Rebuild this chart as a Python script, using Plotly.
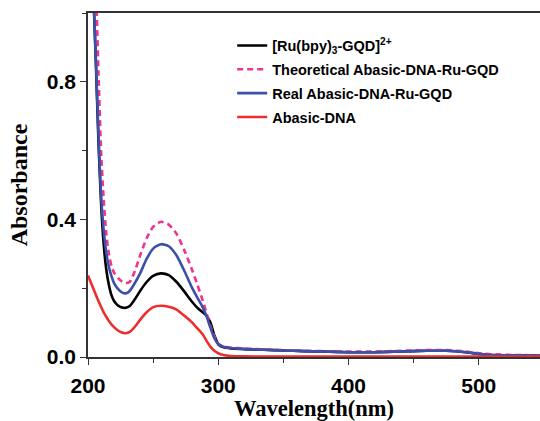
import plotly.graph_objects as go

wavelength = [200, 202, 204, 206, 208, 210, 212, 214, 216, 218, 220, 223, 226, 229, 232, 236, 240, 245, 250, 256,
              262, 268, 274, 280, 284, 288, 291, 294, 297, 300, 304, 310, 320, 335, 350, 365, 380, 400, 420, 440,
              460, 475, 490, 500, 510, 525, 547]

ru_gqd = [1.70, 1.35, 1.07, 0.86, 0.63, 0.45, 0.33, 0.255, 0.21, 0.18, 0.163, 0.150, 0.144, 0.143, 0.148, 0.168, 0.192, 0.218, 0.236, 0.243,
          0.238, 0.218, 0.190, 0.160, 0.143, 0.130, 0.120, 0.100, 0.063, 0.037, 0.028, 0.025, 0.023, 0.021, 0.019, 0.017, 0.016, 0.014, 0.014, 0.016,
          0.018, 0.018, 0.014, 0.009, 0.006, 0.005, 0.004]

theoretical = [2.20, 1.75, 1.40, 1.10, 0.83, 0.60, 0.46, 0.36, 0.30, 0.265, 0.245, 0.230, 0.220, 0.215, 0.218, 0.250, 0.295, 0.345, 0.378, 0.393,
               0.385, 0.358, 0.310, 0.252, 0.210, 0.165, 0.127, 0.090, 0.060, 0.038, 0.030, 0.027, 0.025, 0.022, 0.020, 0.018, 0.017, 0.016, 0.016, 0.018,
               0.020, 0.020, 0.016, 0.011, 0.008, 0.006, 0.005]

real = [1.75, 1.38, 1.08, 0.87, 0.65, 0.47, 0.37, 0.305, 0.262, 0.235, 0.215, 0.198, 0.188, 0.185, 0.192, 0.215, 0.243, 0.285, 0.315, 0.328,
        0.322, 0.295, 0.250, 0.200, 0.172, 0.145, 0.118, 0.085, 0.055, 0.038, 0.030, 0.026, 0.023, 0.021, 0.019, 0.017, 0.016, 0.014, 0.014, 0.016,
        0.018, 0.018, 0.014, 0.009, 0.006, 0.005, 0.004]

abasic = [0.237, 0.218, 0.200, 0.181, 0.163, 0.146, 0.130, 0.117, 0.105, 0.095, 0.087, 0.077, 0.071, 0.069, 0.073, 0.088, 0.108, 0.130, 0.145, 0.149,
          0.146, 0.138, 0.120, 0.100, 0.083, 0.066, 0.047, 0.030, 0.018, 0.011, 0.006, 0.003, 0.002, 0.001, 0.001, 0.001, 0.001, 0.001, 0.001, 0.001,
          0.001, 0.001, 0.001, 0.001, 0.001, 0.001, 0.001]

series = [
    ("[Ru(bpy)<sub>3</sub>-GQD]<sup>2+</sup>", ru_gqd, "#000000", "solid"),
    ("Theoretical Abasic-DNA-Ru-GQD", theoretical, "#F0338F", "6px,4px"),
    ("Real Abasic-DNA-Ru-GQD", real, "#3B50A8", "solid"),
    ("Abasic-DNA", abasic, "#EE2E2E", "solid"),
]

x_tickvals = [200, 300, 400, 500]
y_tickvals = [0.0, 0.4, 0.8]
y_ticktext = ["0.0", "0.4", "0.8"]

fig = go.Figure()
for i, (name, vals, color, dash) in enumerate(series):
    fig.add_trace(go.Scatter(
        x=wavelength, y=vals, mode="lines", name=name, legendgroup=str(i),
        line=dict(color=color, width=2.6, dash=dash, shape="spline", smoothing=0.6),
    ))

fig.update_layout(
    width=540, height=421,
    margin=dict(l=88, r=0, t=13, b=64),
    paper_bgcolor="white", plot_bgcolor="white",
    showlegend=True,
    legend=dict(x=0.319, y=0.952, xanchor="left", yanchor="top",
                bgcolor="rgba(0,0,0,0)", tracegroupgap=2,
                font=dict(family="Liberation Sans", size=14.5, color="black", weight="bold")),
    xaxis=dict(
        range=[200, 547], tickvals=x_tickvals, ticks="outside", ticklen=6, tickwidth=1.3,
        tickcolor="#333", showline=True, linecolor="#333", linewidth=1.5, mirror=True,
        showgrid=False, zeroline=False, ticklabelstandoff=3,
        minor=dict(ticks="outside", dtick=50, tick0=200, ticklen=4, tickwidth=1.2, tickcolor="#333", showgrid=False),
        tickfont=dict(family="Liberation Sans", size=21, color="black", weight="bold"),
        title=dict(text="Wavelength(nm)", standoff=2,
                   font=dict(family="Liberation Serif", size=22.5, color="black", weight="bold")),
    ),
    yaxis=dict(
        range=[0, 1.0], tickvals=y_tickvals, ticktext=y_ticktext, ticks="outside", ticklen=6, tickwidth=1.3,
        tickcolor="#333", showline=True, linecolor="#333", linewidth=1.5,
        showgrid=False, zeroline=False,
        minor=dict(ticks="outside", dtick=0.2, tick0=0, ticklen=4, tickwidth=1.2, tickcolor="#333", showgrid=False),
        tickfont=dict(family="Liberation Sans", size=21, color="black", weight="bold"),
        title=dict(text="Absorbance", standoff=12,
                   font=dict(family="Liberation Serif", size=24, color="black", weight="bold")),
    ),
)

fig.write_html("out.html", config={"displayModeBar": False},
               post_script="document.body.style.margin='0';")
